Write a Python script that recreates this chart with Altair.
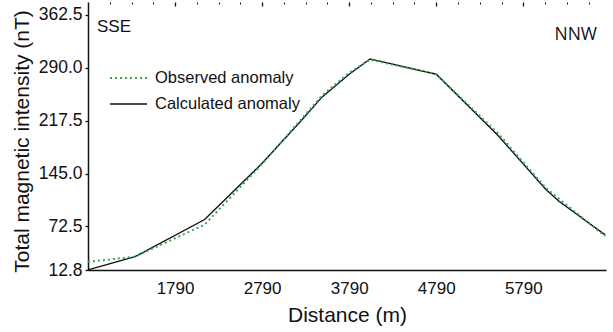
import altair as alt
import pandas as pd

# Profile readings along the SSE-NNW line
obs_dist = [790, 1330, 2130, 2790, 3480, 3790, 4030, 4790, 5500, 6050, 6730]
obs_val = [24, 31, 75, 158, 252, 283, 301, 281, 200, 125, 59]
calc_dist = [790, 1330, 2130, 2790, 3220, 3480, 3790, 4030, 4790, 5500, 6050, 6200, 6730]
calc_val = [13, 31, 82, 159, 215, 250, 281, 302, 281, 197, 123, 107, 61]

# Axis ticks
x_major = [1790, 2790, 3790, 4790, 5790]
x_minor = [1040, 1290, 1540, 2040, 2290, 2540, 3040, 3290, 3540,
           4040, 4290, 4540, 5040, 5290, 5540, 6040, 6290, 6540]
y_ticks = [12.8, 72.5, 145.0, 217.5, 290.0, 362.5]

legend_labels = ["Observed anomaly", "Calculated anomaly"]
directions = ["SSE", "NNW"]

W, H = 518, 268
FONT = "Liberation Sans"
GREEN = "#34a853"
INK = "#111111"

obs_df = pd.DataFrame({"distance": obs_dist, "value": obs_val})
calc_df = pd.DataFrame({"distance": calc_dist, "value": calc_val})

x_scale = alt.Scale(domain=[790, 6740], nice=False, zero=False)
y_scale = alt.Scale(domain=[12.8, 380], nice=False, zero=False)

y_axis = alt.Axis(
    values=y_ticks, format=".1f", title="Total magnetic intensity (nT)",
    tickSize=3, labelPadding=3, grid=False, labelFontSize=17.5,
    titleX=-66, titleY=139, titleAlign="center", titleBaseline="middle",
)

calc = alt.Chart(calc_df).mark_line(color=INK, strokeWidth=1.4).encode(
    x=alt.X("distance:Q", scale=x_scale, axis=alt.Axis(
        values=x_major, format="d", title="Distance (m)", ticks=False,
        labelPadding=10, grid=False, titleY=51, titleBaseline="alphabetic")),
    y=alt.Y("value:Q", scale=y_scale, axis=y_axis),
)

obs = alt.Chart(obs_df).mark_line(color=GREEN, strokeWidth=2, strokeDash=[2, 3]).encode(
    x=alt.X("distance:Q", scale=x_scale, axis=None),
    y=alt.Y("value:Q", scale=y_scale),
)

# Inward tick marks on the distance axis
major_ticks = alt.Chart(pd.DataFrame({"t": x_major})).mark_point(opacity=0).encode(
    x=alt.X("t:Q", scale=x_scale, axis=alt.Axis(
        values=x_major, labels=False, domain=False, title=None, grid=False,
        tickSize=4, offset=-4, tickColor=INK, tickWidth=1.3)),
)
minor_ticks = alt.Chart(pd.DataFrame({"t": x_minor})).mark_point(opacity=0).encode(
    x=alt.X("t:Q", scale=x_scale, axis=alt.Axis(
        values=x_minor, labels=False, domain=False, title=None, grid=False,
        tickSize=2, offset=-2, tickColor=INK, tickWidth=1)),
)

# Direction labels
sse = alt.Chart(pd.DataFrame({"d": [directions[0]]})).mark_text(
    align="left", baseline="alphabetic", fontSize=17, font=FONT, color=INK
).encode(text="d:N", x=alt.value(9), y=alt.value(30))
nnw = alt.Chart(pd.DataFrame({"d": [directions[1]]})).mark_text(
    align="right", baseline="alphabetic", fontSize=17.5, font="Open Sans", color=INK
).encode(text="d:N", x=alt.value(509), y=alt.value(38))

# Hand-placed legend
legend_layers = []
styles = [dict(color=GREEN, strokeWidth=2.2, strokeDash=[2, 3]),
          dict(color=INK, strokeWidth=1.5)]
for i, (lab, st) in enumerate(zip(legend_labels, styles)):
    yy = 76 + 26 * i
    row = pd.DataFrame({"label": [lab]})
    legend_layers.append(
        alt.Chart(row).mark_rule(**st).encode(
            x=alt.value(22), x2=alt.value(59), y=alt.value(yy))
    )
    legend_layers.append(
        alt.Chart(row).mark_text(align="left", baseline="middle", fontSize=16.5,
                                 font=FONT, color=INK).encode(
            text="label:N", x=alt.value(67), y=alt.value(yy))
    )

chart = alt.layer(
    calc, obs, major_ticks, minor_ticks, sse, nnw, *legend_layers
).resolve_axis(x="independent").properties(
    width=W, height=H,
    padding={"left": 88, "top": 2, "right": 7, "bottom": 62},
    autosize=alt.AutoSizeParams(type="none"),
).configure_view(stroke=None).configure_axis(
    labelFont=FONT, titleFont=FONT, labelFontSize=17, titleFontSize=21,
    labelColor=INK, titleColor=INK, titleFontWeight="normal",
    domainColor=INK, domainWidth=1.5, tickColor=INK, tickWidth=1.3,
)

chart.save("out.html", embed_options={"renderer": "svg", "actions": False})
